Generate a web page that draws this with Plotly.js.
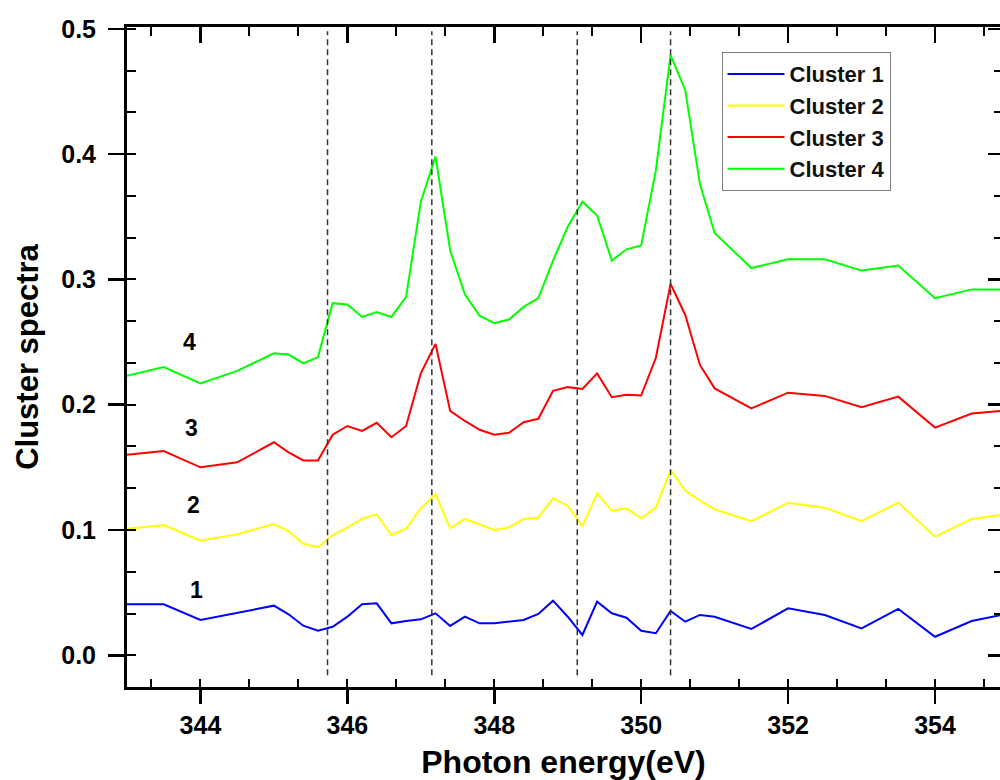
<!DOCTYPE html>
<html>
<head>
<meta charset="utf-8">
<script src="https://cdn.plot.ly/plotly-3.0.1.min.js"></script>
<style>html,body{margin:0;padding:0;background:#fff;}#chart{width:1000px;height:780px;}</style>
</head>
<body>
<div id="chart"></div>
<script>
// Photon energy grid (eV)
var energy = [343, 343.5, 344, 344.5, 345, 345.2, 345.4, 345.6, 345.8, 346, 346.2, 346.4, 346.6, 346.8,
  347, 347.2, 347.4, 347.6, 347.8, 348, 348.2, 348.4, 348.6, 348.8, 349, 349.2, 349.4, 349.6, 349.8,
  350, 350.2, 350.4, 350.6, 350.8, 351, 351.5, 352, 352.5, 353, 353.5, 354, 354.5, 355];

var cluster1 = [0.0407, 0.0407, 0.0282, 0.034, 0.0396, 0.0327, 0.0236, 0.0196, 0.0228, 0.0308, 0.0407, 0.0415, 0.0255, 0.0274,
  0.0287, 0.0335, 0.0234, 0.0308, 0.0255, 0.0255, 0.0268, 0.0282, 0.033, 0.0436, 0.0308, 0.0162, 0.0428, 0.0335, 0.030,
  0.0196, 0.0176, 0.0354, 0.0268, 0.0322, 0.0308, 0.021, 0.0375, 0.0322, 0.0215, 0.037, 0.0148, 0.0274, 0.0333];

var cluster2 = [0.101, 0.104, 0.0915, 0.0966, 0.1048, 0.099, 0.089, 0.0862, 0.096, 0.1018, 0.109, 0.1125, 0.096, 0.101,
  0.1173, 0.1285, 0.1013, 0.1088, 0.1045, 0.100, 0.102, 0.1088, 0.110, 0.1253, 0.1194, 0.103, 0.1293, 0.1154, 0.1173,
  0.1093, 0.1178, 0.148, 0.1314, 0.1235, 0.1165, 0.107, 0.1218, 0.1178, 0.107, 0.1218, 0.0947, 0.1088, 0.113];

var cluster3 = [0.160, 0.163, 0.150, 0.154, 0.170, 0.162, 0.1555, 0.1555, 0.176, 0.183, 0.179, 0.1855, 0.174, 0.183,
  0.225, 0.2485, 0.195, 0.187, 0.180, 0.176, 0.1776, 0.186, 0.1887, 0.211, 0.214, 0.2126, 0.225, 0.206, 0.208,
  0.2073, 0.2374, 0.2964, 0.2716, 0.2317, 0.213, 0.197, 0.2096, 0.207, 0.198, 0.2064, 0.1817, 0.193, 0.1955];

var cluster4 = [0.223, 0.230, 0.217, 0.227, 0.241, 0.240, 0.233, 0.238, 0.281, 0.280, 0.270, 0.274, 0.270, 0.286,
  0.362, 0.398, 0.323, 0.288, 0.271, 0.265, 0.268, 0.278, 0.285, 0.315, 0.342, 0.362, 0.351, 0.315, 0.324,
  0.327, 0.387, 0.479, 0.451, 0.376, 0.337, 0.309, 0.316, 0.316, 0.307, 0.311, 0.285, 0.292, 0.292];

var seriesNames = ['Cluster 1', 'Cluster 2', 'Cluster 3', 'Cluster 4'];
var seriesColors = ['#0000FF', '#FFFF00', '#FF0000', '#00FF00'];

// Reference energies marked by dashed lines
var markerEnergies = [345.73, 347.15, 349.13, 350.4];

// Curve number labels
var curveLabels = ['4', '3', '2', '1'];
var curveLabelX = [343.85, 343.88, 343.91, 343.95];
var curveLabelY = [0.2503, 0.1814, 0.120, 0.0521];

var xRange = [343.0, 354.885];
var yRange = [-0.0253, 0.5014];

var seriesData = [cluster1, cluster2, cluster3, cluster4];
var traces = seriesData.map(function (vals, i) {
  return {
    x: energy, y: vals, type: 'scatter', mode: 'lines',
    name: seriesNames[i],
    line: {color: seriesColors[i], width: 2}
  };
});
// empty carrier trace so the mirrored top/right axes get drawn with ticks
traces.push({x: [], y: [], type: 'scatter', mode: 'lines', xaxis: 'x2', yaxis: 'y2',
  showlegend: false, hoverinfo: 'skip'});

var shapes = markerEnergies.map(function (e) {
  return {type: 'line', xref: 'x', yref: 'y', x0: e, x1: e, y0: -0.016, y1: 0.498,
    line: {color: '#333333', width: 1.5, dash: '6px,4px'}};
});

var fontFam = 'Arial, Liberation Sans, sans-serif';

var annotations = curveLabels.map(function (t, i) {
  return {x: curveLabelX[i], y: curveLabelY[i], xref: 'x', yref: 'y', text: '<b>' + t + '</b>',
    showarrow: false, font: {family: fontFam, size: 23, color: '#000'}};
});

var layout = {
  width: 1000, height: 780,
  margin: {l: 127, r: 0, t: 27, b: 93},
  paper_bgcolor: '#fff', plot_bgcolor: '#fff',
  showlegend: true,
  legend: {x: 0.681, y: 0.962, xanchor: 'left', yanchor: 'top',
    bgcolor: '#fff', bordercolor: '#808080', borderwidth: 1,
    font: {family: fontFam, size: 22, color: '#111', weight: 'bold'}, itemwidth: 57},
  xaxis: {
    range: xRange, tickmode: 'linear', tick0: 344, dtick: 2,
    ticks: 'outside', ticklen: 14, tickwidth: 2.5, tickcolor: '#000',
    showline: true, linewidth: 3, linecolor: '#000',
    showgrid: false, zeroline: false,
    tickfont: {family: fontFam, size: 25, color: '#000', weight: 'bold'},
    minor: {dtick: 2/3, ticks: 'inside', ticklen: 8, tickwidth: 2, tickcolor: '#000', showgrid: false},
    title: {text: '<b>Photon energy(eV)</b>', font: {family: fontFam, size: 32, color: '#000'}, standoff: 34}
  },
  yaxis: {
    range: yRange, tickmode: 'linear', tick0: 0, dtick: 0.1, tickformat: '.1f',
    ticks: 'outside', ticklen: 16, tickwidth: 2.5, tickcolor: '#000',
    showline: true, linewidth: 3, linecolor: '#000',
    showgrid: false, zeroline: false,
    ticklabelstandoff: 7,
    tickfont: {family: fontFam, size: 25, color: '#000', weight: 'bold'},
    minor: {dtick: 0.1/3, ticks: 'inside', ticklen: 9, tickwidth: 2, tickcolor: '#000', showgrid: false},
    title: {text: '<b>Cluster spectra</b>', font: {family: fontFam, size: 31, color: '#000'}, standoff: 14}
  },
  xaxis2: {
    overlaying: 'x', side: 'top', anchor: 'y2', range: xRange,
    tickmode: 'linear', tick0: 344, dtick: 2,
    ticks: 'inside', ticklen: 16, tickwidth: 2.5, tickcolor: '#000',
    showticklabels: false, showline: true, linewidth: 3, linecolor: '#000',
    showgrid: false, zeroline: false,
    minor: {dtick: 2/3, ticks: 'inside', ticklen: 9, tickwidth: 2, tickcolor: '#000', showgrid: false}
  },
  yaxis2: {
    overlaying: 'y', side: 'right', anchor: 'x2', range: yRange,
    tickmode: 'linear', tick0: 0, dtick: 0.1,
    ticks: 'inside', ticklen: 12, tickwidth: 2.5, tickcolor: '#000',
    showticklabels: false, showline: false,
    showgrid: false, zeroline: false,
    minor: {dtick: 0.1/3, ticks: 'inside', ticklen: 6, tickwidth: 2, tickcolor: '#000', showgrid: false}
  },
  shapes: shapes,
  annotations: annotations
};

Plotly.newPlot('chart', traces, layout, {displayModeBar: false, staticPlot: true});
</script>
</body>
</html>
